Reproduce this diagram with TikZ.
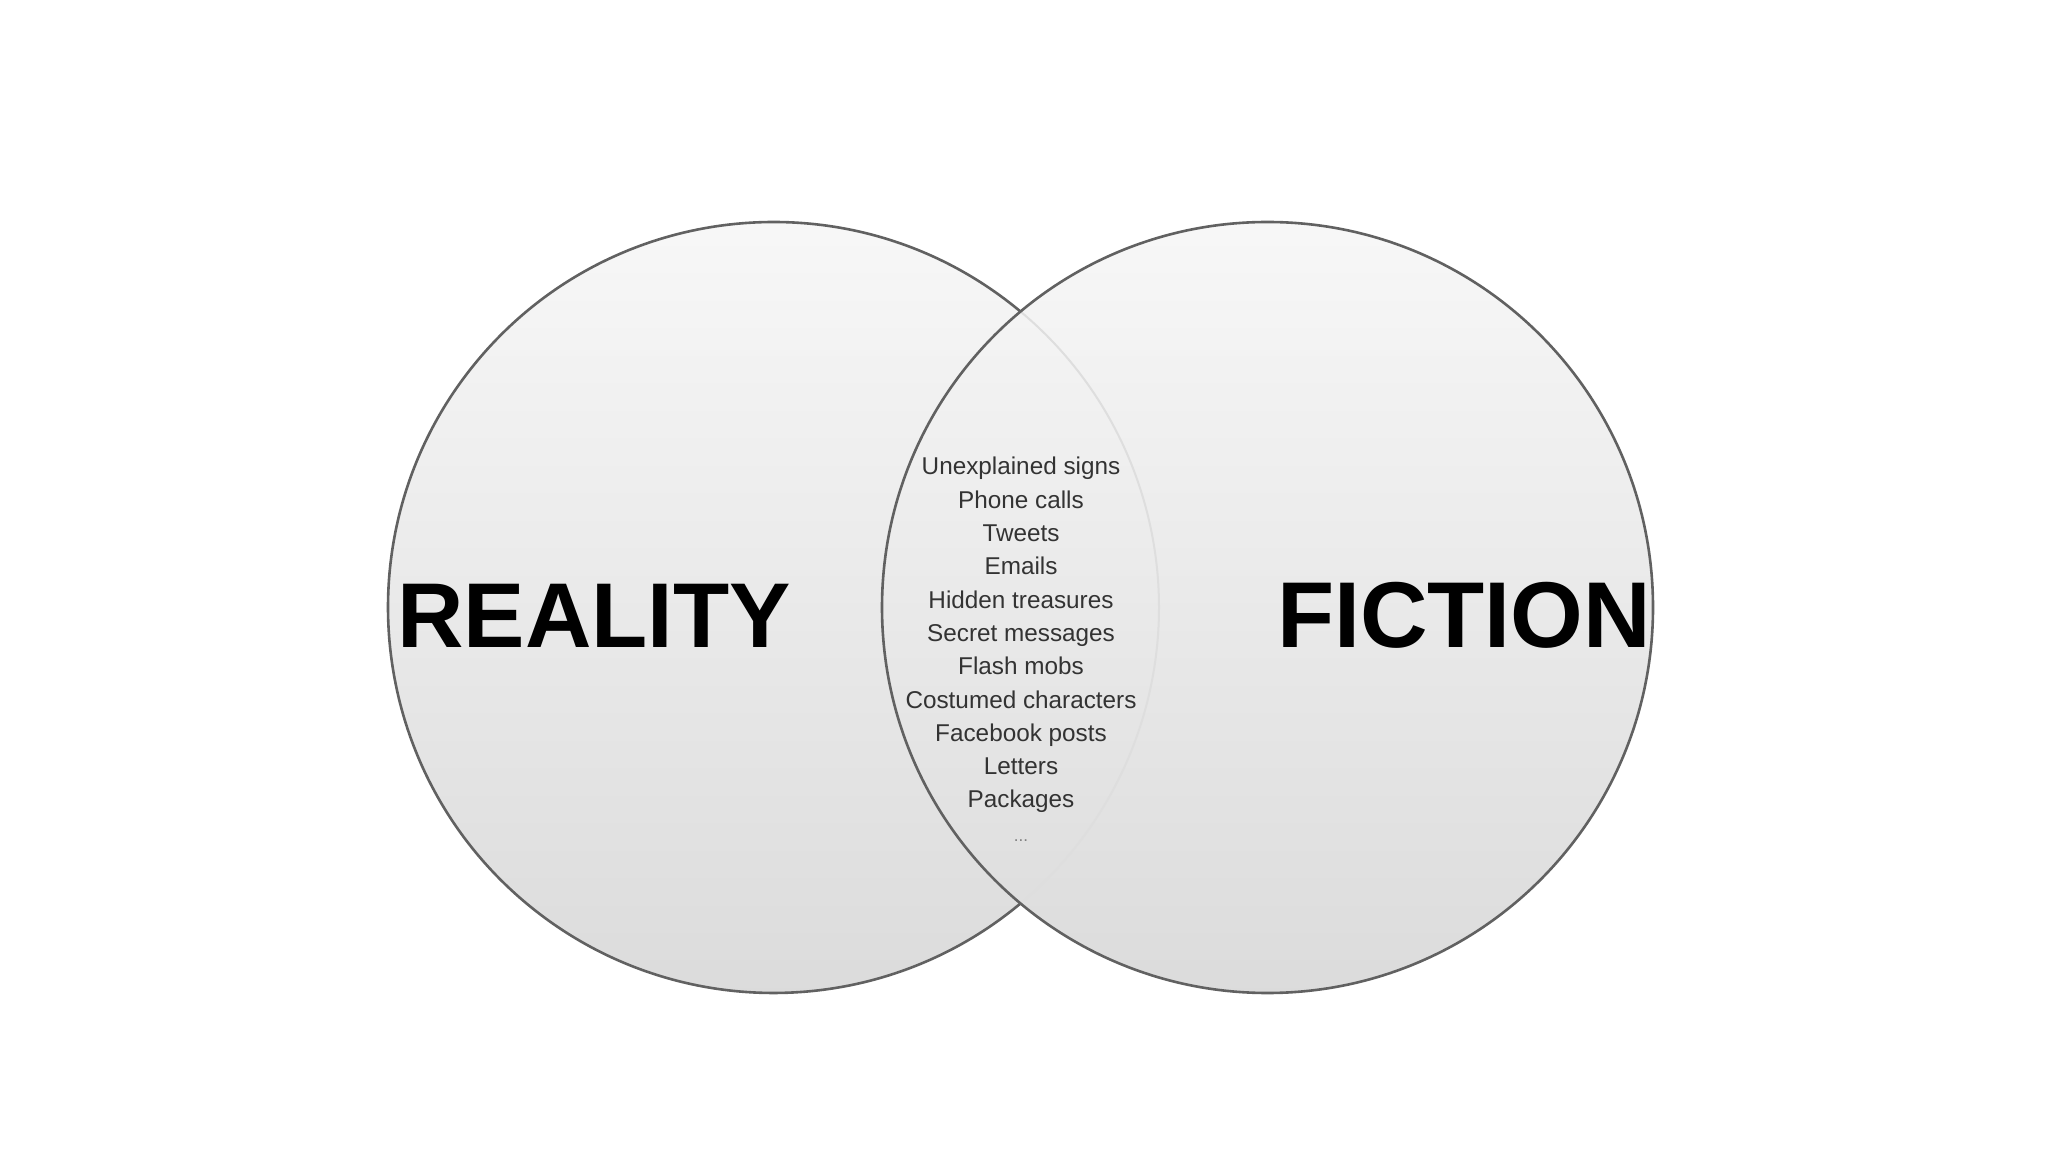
\documentclass[tikz,border=0pt]{standalone}
\usepackage{fontspec}
\setmainfont{Liberation Sans}
\begin{document}
\begin{tikzpicture}[x=1pt,y=1pt,
  bigword/.style={font=\fontsize{92}{92}\selectfont\bfseries, text=black, inner sep=0pt, anchor=base},
  item/.style={font=\fontsize{24.3}{26}\selectfont, text=black!80, inner sep=0pt, anchor=base},
  dots/.style={font=\fontsize{17}{18}\selectfont, text=black!50, inner sep=0pt, anchor=base},
  rim/.style={draw=black!62, line width=2.6pt},
  faintrim/.style={draw=black!13, line width=2pt},
  disc/.style={top color=black!3, bottom color=black!14, draw=none}
]
\useasboundingbox[fill=white] (0,0) rectangle (2048,1152);
\def\rr{385.5}
\def\ang{50.16}
\coordinate (L) at (773.5,544.5);
\coordinate (R) at (1267.5,544.5);
% left circle
\shade[disc] (L) circle[radius=\rr];
\draw[rim] (L) ++(\ang:\rr) arc[start angle=\ang, end angle=360-\ang, radius=\rr];
% right circle
\shade[disc] (R) circle[radius=\rr];
\draw[faintrim] (L) ++(-\ang:\rr) arc[start angle=-\ang, end angle=\ang, radius=\rr];
\draw[rim] (R) circle[radius=\rr];
% big words
\node[bigword] (reality) at (594,504) {REALITY};
\node[bigword, font=\fontsize{93.5}{94}\selectfont\bfseries] (fiction) at (1464,504) {FICTION};
% list
\foreach \t [count=\i from 0] in {Unexplained signs, Phone calls, Tweets, Emails, Hidden treasures, Secret messages, Flash mobs, Costumed characters, Facebook posts, Letters, Packages}{
  \node[item] (item\i) at (1021,677-33.3*\i) {\t};
}
\node[dots] (more) at (1021,310.7) {...};
\end{tikzpicture}
\end{document}
